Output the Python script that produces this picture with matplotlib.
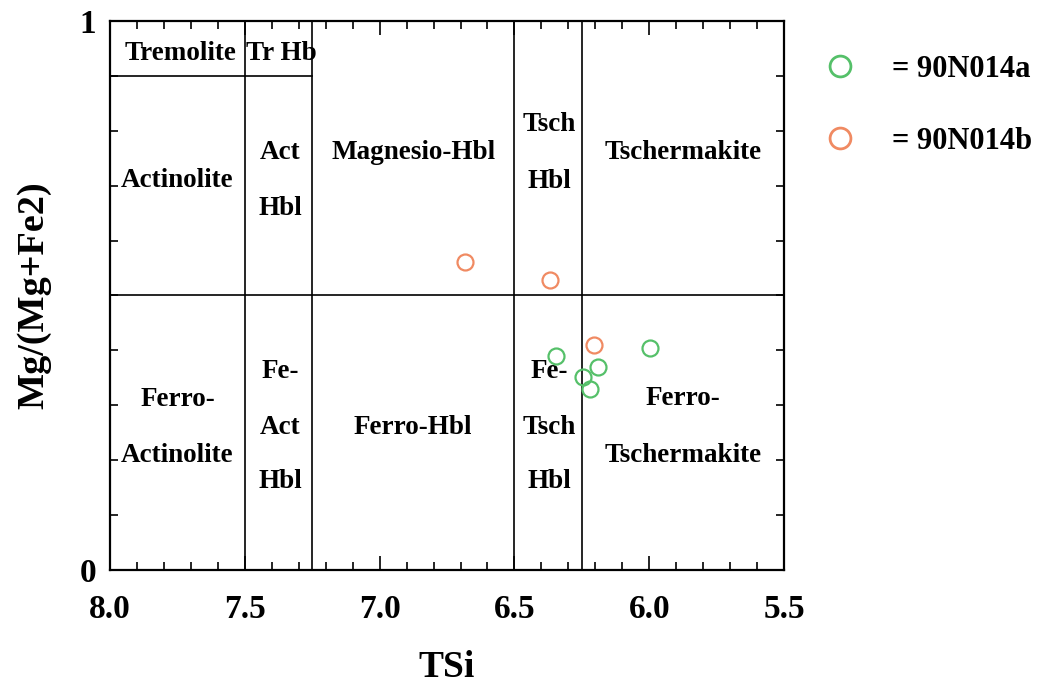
import matplotlib
matplotlib.use("Agg")
import matplotlib.pyplot as plt
import numpy as np
from matplotlib.lines import Line2D

plt.rcParams['font.family'] = ['Liberation Serif', 'DejaVu Serif']
plt.rcParams['font.weight'] = 'bold'

# sample points (TSi, Mg/(Mg+Fe2))
a_tsi = [6.346, 6.246, 6.190, 6.220, 5.997]
a_mg = [0.390, 0.352, 0.370, 0.330, 0.404]
b_tsi = [6.683, 6.368, 6.205]
b_mg = [0.561, 0.528, 0.410]
a_name = "= 90N014a"
b_name = "= 90N014b"
green = "#55c069"
orange = "#f08a62"

# field boundaries
v_bounds = [7.5, 7.25, 6.5, 6.25]
h_split = 0.5
trem_y = 0.9

# field labels: (text, x, y)
fields = [
    ("Tremolite", 7.74, 0.94), ("Tr Hb", 7.365, 0.94),
    ("Actinolite", 7.75, 0.709), ("Act", 7.37, 0.76), ("Hbl", 7.37, 0.659),
    ("Magnesio-Hbl", 6.876, 0.76),
    ("Tsch", 6.372, 0.811), ("Hbl", 6.372, 0.707),
    ("Tschermakite", 5.875, 0.76),
    ("Ferro-", 7.75, 0.31), ("Actinolite", 7.75, 0.209),
    ("Fe-", 7.37, 0.361), ("Act", 7.37, 0.26), ("Hbl", 7.37, 0.162),
    ("Ferro-Hbl", 6.876, 0.26),
    ("Fe-", 6.372, 0.361), ("Tsch", 6.372, 0.26), ("Hbl", 6.372, 0.162),
    ("Ferro-", 5.875, 0.313), ("Tschermakite", 5.875, 0.209),
]

fig = plt.figure(figsize=(10.51, 6.88), dpi=100)
ax = fig.add_axes([0.1047, 0.1715, 0.6413, 0.798])
ax.set_xlim(8.0, 5.5)
ax.set_ylim(0, 1)

lw = 1.2
for xv in v_bounds:
    ax.axvline(xv, color="k", lw=lw, zorder=1)
ax.axhline(h_split, color="k", lw=lw, zorder=1)
ax.plot([8.0, 7.25], [trem_y, trem_y], color="k", lw=lw, zorder=1)

for t, x, y in fields:
    ax.text(x, y, t, ha="center", va="center", fontsize=19.5, fontweight="bold", zorder=2)

ax.plot(a_tsi, a_mg, "o", mfc="none", mec=green, ms=11.5, mew=1.6, zorder=3)
ax.plot(b_tsi, b_mg, "o", mfc="none", mec=orange, ms=11.5, mew=1.6, zorder=3)

ax.set_xticks([8.0, 7.5, 7.0, 6.5, 6.0, 5.5])
ax.set_xticklabels(["8.0", "7.5", "7.0", "6.5", "6.0", "5.5"])
ax.set_xticks(np.arange(5.5, 8.01, 0.1), minor=True)
ax.set_yticks([0, 1])
ax.set_yticklabels(["0", "1"])
ax.set_yticks(np.arange(0, 1.01, 0.1), minor=True)
ax.tick_params(which="both", direction="in", top=True, right=True, width=1.2, labelsize=24)
ax.tick_params(axis="x", which="major", length=10, pad=17)
ax.tick_params(axis="y", which="major", length=10, pad=10)
ax.tick_params(which="minor", length=6)
for s in ax.spines.values():
    s.set_linewidth(1.6)

ax.set_xlabel("TSi", fontsize=27, fontweight="bold", labelpad=18)
ax.set_ylabel("Mg/(Mg+Fe2)", fontsize=27.5, fontweight="bold", labelpad=20)

handles = [
    Line2D([], [], ls="none", marker="o", mfc="none", mec=green, ms=15, mew=2),
    Line2D([], [], ls="none", marker="o", mfc="none", mec=orange, ms=15, mew=2),
]
fig.legend(handles, [a_name, b_name], loc="upper left", bbox_to_anchor=(0.744, 0.96),
           frameon=False, prop={"size": 22, "weight": "bold"},
           labelspacing=1.4, handletextpad=0.7)

fig.savefig("out.png", dpi=100)
